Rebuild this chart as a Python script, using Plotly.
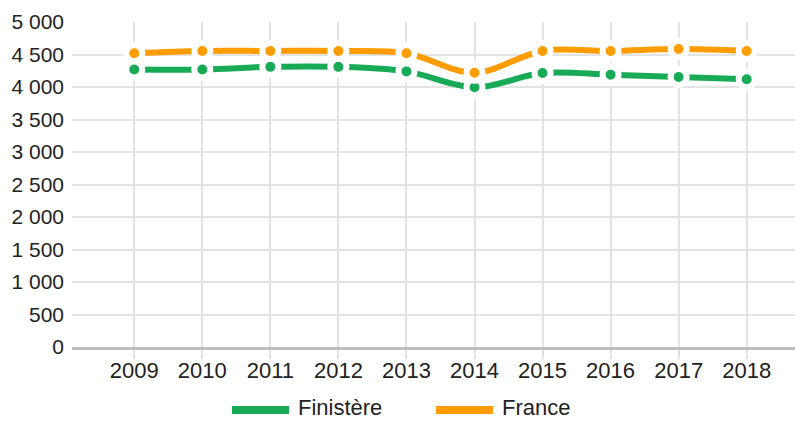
import plotly.graph_objects as go

years = [2009, 2010, 2011, 2012, 2013, 2014, 2015, 2016, 2017, 2018]
finistere = [4270, 4270, 4310, 4310, 4240, 3995, 4215, 4190, 4155, 4120]
france = [4520, 4555, 4555, 4555, 4520, 4220, 4555, 4555, 4585, 4555]
series_names = ["Finistère", "France"]
colors = ["#19aa56", "#ff9c00"]
y_ticks = [0, 500, 1000, 1500, 2000, 2500, 3000, 3500, 4000, 4500, 5000]

W, H = 795, 421
ML, MR, MT, MB = 72, 0, 22, 74
pw = W - ML - MR
ph = H - MT - MB

fig = go.Figure()
for name, vals, col in zip(series_names, [finistere, france], colors):
    fig.add_trace(go.Scatter(
        x=years, y=vals, name=name, mode="lines+markers",
        line=dict(color=col, width=6, shape="spline", smoothing=1),
        marker=dict(size=16, color=col, line=dict(color="white", width=6)),
        showlegend=False, cliponaxis=False,
    ))

# manual legend (long line symbols)
def px_x(p):
    return (p - ML) / pw

def px_y(p):
    return (H - MB - p) / ph

legend_items = [(232, 289, 297), (436, 493, 501)]
ly_line = px_y(410)
ly_text = px_y(407)
for (x0, x1, xt), name, col in zip(legend_items, series_names, colors):
    fig.add_shape(type="line", xref="paper", yref="paper",
                  x0=px_x(x0), x1=px_x(x1), y0=ly_line, y1=ly_line,
                  line=dict(color=col, width=8))
    fig.add_annotation(xref="paper", yref="paper", x=px_x(xt), y=ly_text,
                       text=name, showarrow=False, xanchor="left", yanchor="middle",
                       borderpad=0,
                       font=dict(size=22, color="#222222"))

fig.update_layout(
    width=W, height=H,
    margin=dict(l=ML, r=MR, t=MT, b=MB, pad=0),
    plot_bgcolor="white", paper_bgcolor="white",
    font=dict(family="Liberation Sans, Arial, sans-serif", color="#222222"),
    showlegend=False,
)
fig.update_xaxes(
    range=[2008.085, 2018.71], tickmode="array", tickvals=years,
    ticktext=[str(y) for y in years],
    showgrid=True, gridcolor="#e3e3e3", gridwidth=2,
    ticks="outside", ticklen=9, tickwidth=2, tickcolor="#e3e3e3",
    ticklabelstandoff=-7,
    showline=True, linecolor="#bdbdbd", linewidth=3,
    tickfont=dict(size=22, color="#222222"), zeroline=False,
)
fig.update_yaxes(
    range=[0, 5000], tickmode="array", tickvals=y_ticks,
    ticktext=[f"{v:,}".replace(",", " ") for v in y_ticks],
    showgrid=True, gridcolor="#e3e3e3", gridwidth=2,
    zeroline=False, ticks="", ticklabelstandoff=7,
    tickfont=dict(size=21, color="#222222"),
)

fig.write_html(
    "out.html",
    config={"displayModeBar": False},
    post_script="document.body.style.margin='0';document.body.style.overflow='hidden';",
)
